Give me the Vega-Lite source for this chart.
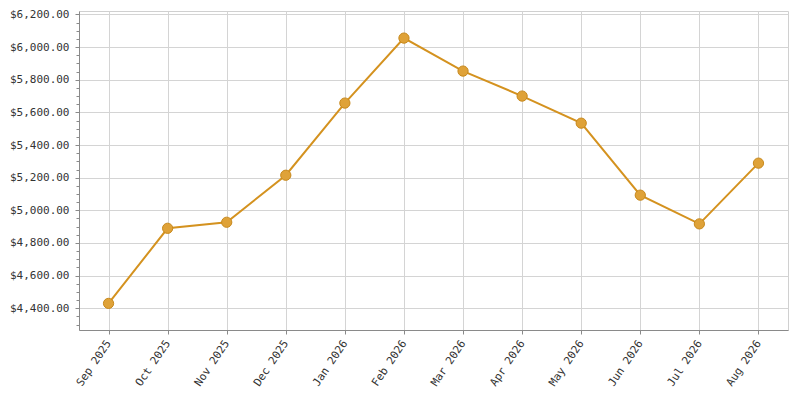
{
  "$schema": "https://vega.github.io/schema/vega-lite/v6.json",
  "width": 709,
  "height": 319,
  "autosize": {"type": "none"},
  "padding": {"left": 79, "top": 11, "right": 12, "bottom": 70},
  "background": "#ffffff",
  "config": {
    "view": {"stroke": "#d0d0d0", "strokeWidth": 1},
    "axis": {
      "labelFont": "DejaVu Sans Mono",
      "labelFontSize": 11,
      "labelColor": "#333333",
      "gridColor": "#d4d4d4",
      "gridWidth": 1,
      "domainColor": "#8a8a8a",
      "tickColor": "#8a8a8a",
      "title": null
    }
  },
  "data": {
    "values": [
      {"month": "Sep 2025", "value": 4430},
      {"month": "Oct 2025", "value": 4890},
      {"month": "Nov 2025", "value": 4927},
      {"month": "Dec 2025", "value": 5215},
      {"month": "Jan 2026", "value": 5657},
      {"month": "Feb 2026", "value": 6055},
      {"month": "Mar 2026", "value": 5853},
      {"month": "Apr 2026", "value": 5700},
      {"month": "May 2026", "value": 5534},
      {"month": "Jun 2026", "value": 5093},
      {"month": "Jul 2026", "value": 4917},
      {"month": "Aug 2026", "value": 5289}
    ]
  },
  "encoding": {
    "x": {
      "field": "month",
      "type": "ordinal",
      "sort": null,
      "scale": {"type": "point", "padding": 0.5},
      "axis": {
        "labelAngle": -56,
        "labelAlign": "right",
        "labelBaseline": "middle",
        "labelPadding": 7,
        "tickSize": 4,
        "grid": true
      }
    }
  },
  "layer": [
    {
      "mark": {"type": "rule", "opacity": 0},
      "encoding": {
        "y": {
          "field": "value",
          "type": "quantitative",
          "scale": {"domain": [4267, 6221], "zero": false, "nice": false},
          "axis": {
            "orient": "left",
            "values": [4300, 4350, 4450, 4500, 4550, 4650, 4700, 4750, 4850, 4900, 4950, 5050, 5100, 5150, 5250, 5300, 5350, 5450, 5500, 5550, 5650, 5700, 5750, 5850, 5900, 5950, 6050, 6100, 6150],
            "labels": false,
            "grid": false,
            "domain": false,
            "tickSize": 3
          }
        }
      }
    },
    {
      "mark": {"type": "rule", "opacity": 0},
      "encoding": {
        "y": {
          "field": "value",
          "type": "quantitative",
          "scale": {"domain": [4267, 6221], "zero": false, "nice": false},
          "axis": {
            "orient": "left",
            "values": [4400, 4600, 4800, 5000, 5200, 5400, 5600, 5800, 6000, 6200],
            "format": "$,.2f",
            "tickSize": 4,
            "labelPadding": 6,
            "grid": true
          }
        }
      }
    },
    {
      "mark": {"type": "line", "color": "#d4921f", "strokeWidth": 2},
      "encoding": {
        "y": {"field": "value", "type": "quantitative", "axis": null}
      }
    },
    {
      "mark": {"type": "point", "filled": true, "size": 105, "fill": "#dfa238", "stroke": "#c8891c", "strokeWidth": 1, "opacity": 1},
      "encoding": {
        "y": {"field": "value", "type": "quantitative", "axis": null}
      }
    }
  ],
  "resolve": {"axis": {"y": "independent"}}
}
